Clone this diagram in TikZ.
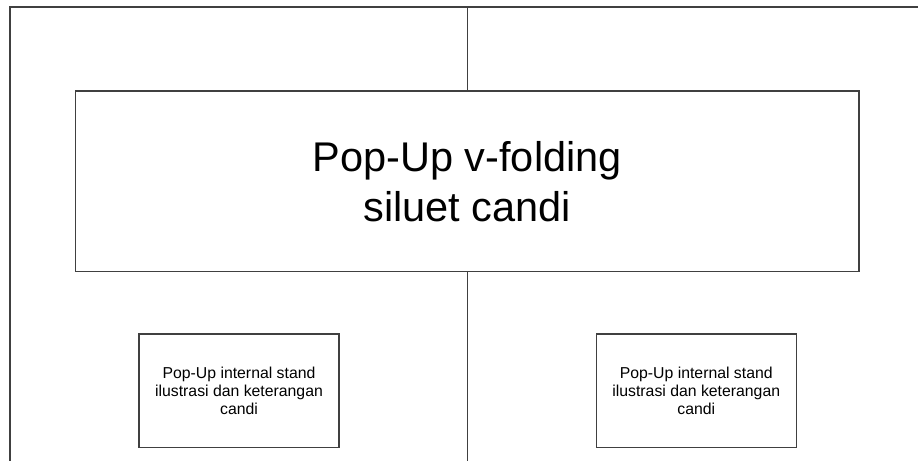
\documentclass[tikz,border=0pt]{standalone}
\usepackage{fontspec}
\setmainfont{Liberation Sans}
\begin{document}
\begin{tikzpicture}[x=1pt,y=-1pt,
  ln/.style={draw=black!75,line width=1.2pt},
  bigbox/.style={ln,rectangle,inner sep=0pt,minimum width=783.5pt,minimum height=180.5pt,align=center,font=\fontsize{41.5}{50}\selectfont},
  smallbox/.style={ln,rectangle,inner sep=0pt,minimum width=200pt,minimum height=113.5pt,align=center,font=\fontsize{15.8}{17.8}\selectfont}]
\useasboundingbox (0,0) rectangle (918,461);
\fill[white] (0,0) rectangle (918,461);
\coordinate (tl) at (10,7);
\coordinate (tr) at (918,7);
\coordinate (bl) at (10,461);
\coordinate (tc) at (467.25,7);
\coordinate (bc) at (467.25,461);
\draw[ln] (tr) -- (tl) -- (bl);
\node[bigbox] (main) at (467.25,181.25) {\raisebox{-4pt}{Pop-Up v-folding}\\\raisebox{-4pt}{siluet candi}};
\node[smallbox] (left) at (239,390.75) {Pop-Up internal stand\\ilustrasi dan keterangan\\candi};
\node[smallbox] (right) at (696.25,390.75) {Pop-Up internal stand\\ilustrasi dan keterangan\\candi};
\draw[ln] (tc) -- (main.north);
\draw[ln] (main.south) -- (bc);
\end{tikzpicture}
\end{document}
